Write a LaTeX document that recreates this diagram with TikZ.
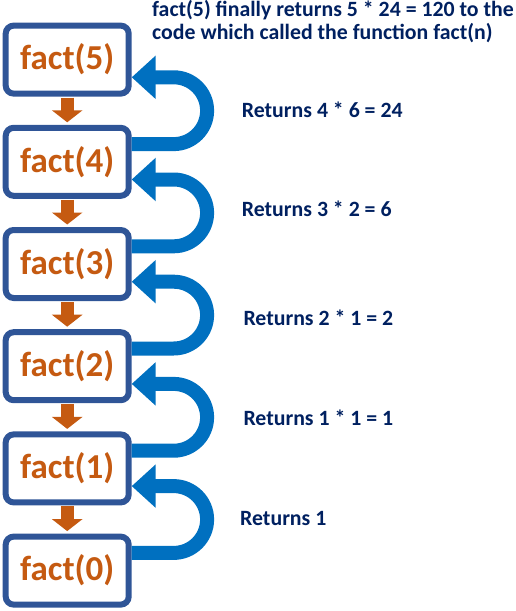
\documentclass[tikz,border=0pt]{standalone}
\usepackage{fontspec}
\setmainfont{Carlito}
\usetikzlibrary{arrows.meta}
\definecolor{boxblue}{HTML}{2F5597}
\definecolor{factorange}{HTML}{C55A11}
\definecolor{retblue}{HTML}{0070C0}
\definecolor{textnavy}{HTML}{002060}

\begin{document}
\begin{tikzpicture}[x=1pt,y=1pt,
  factbox/.style={draw=boxblue,line width=6pt,rounded corners=8pt,fill=white,
    minimum width=123pt,minimum height=68pt,inner sep=0pt,text=factorange,
    font=\fontsize{35}{40}\selectfont\bfseries},
  callarrow/.style={factorange,line width=13pt,-{Triangle[width=30pt,length=12pt]}},
  retarrow/.style={retblue,line width=14pt,-{Triangle[width=42pt,length=24pt]}},
  retlabel/.style={anchor=base west,inner sep=0pt,text=textnavy,
    font=\fontsize{21.8}{23.3}\selectfont\bfseries}]
  \useasboundingbox (0,0) rectangle (516,-611);

  \node[factbox] (f5) at (67.2,-59.6) {fact(5)};
  \node[factbox] (f4) at (67.2,-161.8) {fact(4)};
  \node[factbox] (f3) at (67.2,-264) {fact(3)};
  \node[factbox] (f2) at (67.2,-366.2) {fact(2)};
  \node[factbox] (f1) at (67.2,-468.4) {fact(1)};
  \node[factbox] (f0) at (67.2,-570.6) {fact(0)};

  \draw[callarrow] ([yshift=-1pt]f5.south) -- ([yshift=2.5pt]f4.north);
  \draw[callarrow] ([yshift=-1pt]f4.south) -- ([yshift=2.5pt]f3.north);
  \draw[callarrow] ([yshift=-1pt]f3.south) -- ([yshift=2.5pt]f2.north);
  \draw[callarrow] ([yshift=-1pt]f2.south) -- ([yshift=2.5pt]f1.north);
  \draw[callarrow] ([yshift=-1pt]f1.south) -- ([yshift=2.5pt]f0.north);

  \draw[retarrow] ([yshift=17.7pt]f4.east) -- ++(42pt,0) arc[start angle=-90,end angle=90,radius=33.4pt] -- ([yshift=-17.7pt]f5.east);
  \draw[retarrow] ([yshift=17.7pt]f3.east) -- ++(42pt,0) arc[start angle=-90,end angle=90,radius=33.4pt] -- ([yshift=-17.7pt]f4.east);
  \draw[retarrow] ([yshift=17.7pt]f2.east) -- ++(42pt,0) arc[start angle=-90,end angle=90,radius=33.4pt] -- ([yshift=-17.7pt]f3.east);
  \draw[retarrow] ([yshift=17.7pt]f1.east) -- ++(42pt,0) arc[start angle=-90,end angle=90,radius=33.4pt] -- ([yshift=-17.7pt]f2.east);
  \draw[retarrow] ([yshift=17.7pt]f0.east) -- ++(42pt,0) arc[start angle=-90,end angle=90,radius=33.4pt] -- ([yshift=-17.7pt]f1.east);

  \node[retlabel,anchor=north west,align=left] (final) at (152,0) {fact(5) finally returns 5 * 24 = 120 to the\\code which called the function fact(n)};
  \node[retlabel] (r4) at (241.7,-117) {Returns 4 * 6 = 24};
  \node[retlabel] (r3) at (241.7,-216.7) {Returns 3 * 2 = 6};
  \node[retlabel] (r2) at (243.3,-325.7) {Returns 2 * 1 = 2};
  \node[retlabel] (r1) at (243.3,-425) {Returns 1 * 1 = 1};
  \node[retlabel] (r0) at (240,-525) {Returns 1};
\end{tikzpicture}
\end{document}
